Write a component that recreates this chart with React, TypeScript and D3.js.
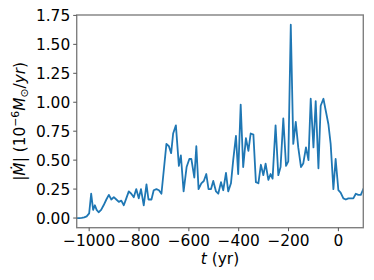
import React from "react";
import * as d3 from "d3";

const years = [
  -1050, -1040, -1030, -1020, -1010, -1000, -992, -984, -977, -970, -962, -952, -942, -931, -921, -911,
  -901, -891, -881, -871, -861, -851, -841, -831, -821, -811, -801, -792, -781, -770, -762, -750,
  -741, -730, -720, -710, -690, -680, -671, -663, -652, -640, -632, -621, -609, -598, -590, -578,
  -570, -561, -550, -540, -530, -521, -511, -502, -491, -482, -471, -462, -451, -442, -431, -422,
  -411, -402, -392, -382, -371, -361, -352, -341, -331, -321, -311, -301, -292, -281, -272, -264,
  -252, -241, -232, -221, -210, -201, -191, -181, -171, -161, -150, -141, -130, -120, -111, -100,
  -91, -80, -71, -60, -50, -40, -31, -20, -11, 0, 9, 20, 30, 40, 50, 60, 70, 80, 90, 100,
];
const mdot = [
  0, 0, 0.002, 0.006, 0.015, 0.04, 0.21, 0.07, 0.11, 0.07, 0.05, 0.07, 0.11, 0.16, 0.2, 0.16,
  0.18, 0.16, 0.14, 0.15, 0.11, 0.17, 0.23, 0.21, 0.18, 0.25, 0.17, 0.25, 0.11, 0.29, 0.16, 0.16,
  0.24, 0.25, 0.24, 0.21, 0.64, 0.62, 0.56, 0.73, 0.8, 0.45, 0.54, 0.23, 0.44, 0.51, 0.51, 0.35,
  0.62, 0.25, 0.3, 0.32, 0.38, 0.25, 0.25, 0.32, 0.23, 0.21, 0.31, 0.24, 0.39, 0.23, 0.3, 0.5,
  0.71, 0.38, 0.98, 0.44, 0.69, 0.58, 0.73, 0.72, 0.31, 0.3, 0.46, 0.37, 0.47, 0.33, 0.38, 0.34,
  0.8, 0.37, 0.44, 0.86, 0.45, 0.49, 1.67, 0.64, 0.83, 0.61, 0.44, 0.47, 0.61, 0.5, 1.03, 0.61,
  1.01, 0.43, 0.97, 1.03, 0.92, 0.81, 0.64, 0.25, 0.51, 0.24, 0.22, 0.17, 0.16, 0.17, 0.17, 0.17,
  0.21, 0.2, 0.2, 0.25,
];
const xTicks = [-1000, -800, -600, -400, -200, 0];
const yTicks = [0, 0.25, 0.5, 0.75, 1.0, 1.25, 1.5, 1.75];

const W = 374;
const H = 280;
const L = 76.7;
const R = 363.3;
const T = 15;
const B = 227.7;
const FONT = "DejaVu Sans";
const FS = 15.4;

export default function App() {
  const x = d3.scaleLinear().domain([-1050, 100]).range([L, R]);
  const y = d3.scaleLinear().domain([-0.0835, 1.7535]).range([B, T]);
  const data = years.map((t, i) => [t, mdot[i]] as [number, number]);
  const line = d3
    .line<[number, number]>()
    .x((d) => x(d[0]))
    .y((d) => y(d[1]));

  return (
    <svg
      width={W}
      height={H}
      style={{ position: "absolute", left: 0, top: 0, background: "#fff" }}
      fontFamily={FONT}
    >
      <rect x={0} y={0} width={W} height={H} fill="#fff" />
      <defs>
        <clipPath id="plotclip">
          <rect x={L} y={T} width={R - L} height={B - T} />
        </clipPath>
      </defs>
      <path
        d={line(data) || ""}
        fill="none"
        stroke="#1f77b4"
        strokeWidth={1.8}
        strokeLinejoin="round"
        strokeLinecap="square"
        clipPath="url(#plotclip)"
      />
      <rect x={L} y={T} width={R - L} height={B - T} fill="none" stroke="#808080" strokeWidth={1.4} />
      {yTicks.map((v) => (
        <g key={"y" + v}>
          <line x1={L - 3.5} x2={L} y1={y(v)} y2={y(v)} stroke="#555" strokeWidth={1} />
          <text x={L - 6.5} y={y(v)} dy="0.36em" textAnchor="end" fontSize={FS} fill="#000">
            {v.toFixed(2)}
          </text>
        </g>
      ))}
      {xTicks.map((v) => (
        <g key={"x" + v}>
          <line x1={x(v)} x2={x(v)} y1={B} y2={B + 3.5} stroke="#555" strokeWidth={1} />
          <text x={x(v)} y={245.5} textAnchor="middle" fontSize={FS} fill="#000">
            {v < 0 ? "\u2212" + Math.abs(v) : String(v)}
          </text>
        </g>
      ))}
      <text x={(L + R) / 2} y={264} textAnchor="middle" fontSize={FS} fill="#000">
        <tspan fontStyle="italic">t</tspan>
        <tspan> (yr)</tspan>
      </text>
      <text
        transform={`translate(25,${(T + B) / 2}) rotate(-90)`}
        textAnchor="middle"
        fontSize={FS}
        fill="#000"
      >
        <tspan>|</tspan>
        <tspan fontStyle="italic">{"M\u0307"}</tspan>
        <tspan>| (10</tspan>
        <tspan dy={-6} fontSize={FS * 0.7}>{"\u22126"}</tspan>
        <tspan dy={6} fontStyle="italic">M</tspan>
        <tspan dy={3} fontSize={FS * 0.7}>{"\u2299"}</tspan>
        <tspan dy={-3}>/</tspan>
        <tspan fontStyle="italic">yr</tspan>
        <tspan>)</tspan>
      </text>
    </svg>
  );
}
